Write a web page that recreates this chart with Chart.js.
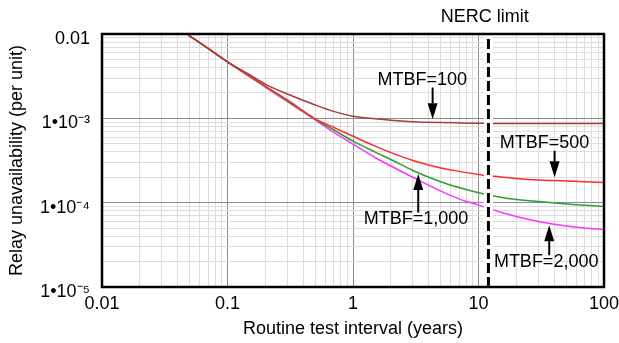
<!DOCTYPE html>
<html><head><meta charset="utf-8">
<script src="https://cdn.jsdelivr.net/npm/chart.js@4/dist/chart.umd.min.js"></script>
<style>html,body{margin:0;padding:0;background:#fff;}canvas{display:block;}</style>
</head><body>
<canvas id="c" width="619" height="343"></canvas>
<script>
// ---- data ----
const testInterval = [0.0486, 0.07, 0.1, 0.15, 0.2, 0.3, 0.5, 0.7, 1, 1.5, 2, 3, 5, 7, 10, 15, 20, 30, 50, 70, 100];
const mtbf100  = [9.73e-3, 6.75e-3, 4.68e-3, 3.29e-3, 2.55e-3, 1.94e-3, 1.44e-3, 1.21e-3, 1.06e-3, 9.86e-4, 9.47e-4, 9.14e-4, 8.92e-4, 8.83e-4, 8.76e-4, 8.69e-4, 8.69e-4, 8.69e-4, 8.69e-4, 8.69e-4, 8.69e-4];
const mtbf500  = [9.73e-3, 6.75e-3, 4.68e-3, 3.16e-3, 2.41e-3, 1.65e-3, 9.86e-4, 7.83e-4, 6.14e-4, 4.68e-4, 3.93e-4, 3.16e-4, 2.58e-4, 2.35e-4, 2.16e-4, 2.02e-4, 1.94e-4, 1.86e-4, 1.81e-4, 1.77e-4, 1.74e-4];
const mtbf1000 = [9.73e-3, 6.75e-3, 4.68e-3, 3.14e-3, 2.38e-3, 1.61e-3, 9.73e-4, 7.32e-4, 5.36e-4, 3.98e-4, 3.25e-4, 2.41e-4, 1.77e-4, 1.51e-4, 1.31e-4, 1.16e-4, 1.09e-4, 1.03e-4, 9.65e-5, 9.32e-5, 9.02e-5];
const mtbf2000 = [9.73e-3, 6.75e-3, 4.68e-3, 3.12e-3, 2.35e-3, 1.58e-3, 9.60e-4, 6.84e-4, 4.94e-4, 3.43e-4, 2.72e-4, 2.00e-4, 1.37e-4, 1.11e-4, 9.35e-5, 7.73e-5, 6.84e-5, 5.98e-5, 5.29e-5, 5.01e-5, 4.81e-5];
const seriesNames = ['MTBF=100', 'MTBF=500', 'MTBF=1,000', 'MTBF=2,000'];
const nercLimit = 12;
const nercText = 'NERC limit';

const xTickValues = [0.01, 0.1, 1, 10, 100];
const xTickLabels = ['0.01', '0.1', '1', '10', '100'];
const yTickValues = [0.01, 1e-3, 1e-4, 1e-5];
const yTickLabels = ['0.01', '1•10⁻³', '1•10⁻⁴', '1•10⁻⁵'];

// callout anchors in data units (interval, unavailability)
const calloutLabelX = [3.57, 33.6, 3.18, 34.6];
const calloutLabelY = [2.84e-3, 5.15e-4, 6.4e-5, 1.97e-5];
const arrowX     = [4.31, 40.4, 3.31, 36.6];
const arrowFromY = [2.32e-3, 4.12e-4, 7.63e-5, 2.38e-5];
const arrowToY   = [9.73e-4, 2.0e-4, 2.19e-4, 5.41e-5];
const nercLabelX = 11.2, nercLabelY = 0.016;

// ---- helpers ----
const FONT = '"Liberation Sans", Arial, sans-serif';
function logTicks(min, max) {
  const out = [];
  for (let e = Math.round(Math.log10(min)); e < Math.round(Math.log10(max)); e++)
    for (let m = 1; m <= 9; m++) out.push(+(m * Math.pow(10, e)).toPrecision(3));
  out.push(max);
  return out;
}
const isDecade = v => Math.abs(Math.log10(v) - Math.round(Math.log10(v))) < 1e-6;
function labelFor(values, labels, v) {
  const i = values.findIndex(t => Math.abs(Math.log10(t) - Math.log10(v)) < 1e-6);
  return i >= 0 ? labels[i] : '';
}
const pts = ys => testInterval.map((t, i) => ({x: t, y: ys[i]}));

const overlay = {
  id: 'overlay',
  afterDatasetsDraw(chart) {
    const {ctx, chartArea: a, scales: {x, y}} = chart;
    ctx.save();
    ctx.strokeStyle = '#000';
    ctx.lineWidth = 2.5;
    ctx.strokeRect(a.left, a.top, a.right - a.left, a.bottom - a.top);
    ctx.font = '18px ' + FONT;
    ctx.fillStyle = '#000';
    ctx.textAlign = 'center';
    ctx.textBaseline = 'middle';
    seriesNames.forEach((t, i) => {
      ctx.fillText(t, x.getPixelForValue(calloutLabelX[i]), y.getPixelForValue(calloutLabelY[i]));
      const ax = x.getPixelForValue(arrowX[i]);
      const y0 = y.getPixelForValue(arrowFromY[i]);
      const y1 = y.getPixelForValue(arrowToY[i]);
      const dir = Math.sign(y1 - y0), hl = 16, hw = 5;
      ctx.lineWidth = 2;
      ctx.beginPath(); ctx.moveTo(ax, y0); ctx.lineTo(ax, y1 - dir * hl); ctx.stroke();
      ctx.beginPath(); ctx.moveTo(ax, y1); ctx.lineTo(ax - hw, y1 - dir * hl); ctx.lineTo(ax + hw, y1 - dir * hl); ctx.closePath(); ctx.fill();
    });
    ctx.fillText(nercText, x.getPixelForValue(nercLabelX), y.getPixelForValue(nercLabelY));
    ctx.restore();
  }
};

Chart.defaults.font.family = FONT;
Chart.defaults.font.size = 18;
Chart.defaults.color = '#000';

const line = (label, ys, color) => ({
  label, data: pts(ys), borderColor: color, borderWidth: 1.5,
  pointRadius: 0, fill: false, cubicInterpolationMode: 'monotone'
});

new Chart(document.getElementById('c'), {
  type: 'line',
  data: {
    datasets: [
      {label: nercText, data: [{x: nercLimit, y: 1e-5}, {x: nercLimit, y: 0.01}], borderColor: '#000', borderWidth: 3, borderDash: [10, 4], pointRadius: 0, fill: false},
      {label: 'halo', data: [{x: nercLimit, y: 1e-5}, {x: nercLimit, y: 0.01}], borderColor: '#fff', borderWidth: 9, pointRadius: 0, fill: false},
      line(seriesNames[0], mtbf100, '#a63c3c'),
      line(seriesNames[1], mtbf500, '#ff2b2b'),
      line(seriesNames[2], mtbf1000, '#2f9e2f'),
      line(seriesNames[3], mtbf2000, '#ff33ff')
    ]
  },
  options: {
    responsive: false,
    animation: false,
    devicePixelRatio: 1,
    layout: {padding: {top: 34, right: 15, bottom: 0, left: 0}},
    plugins: {legend: {display: false}, tooltip: {enabled: false}},
    scales: {
      x: {
        type: 'logarithmic', min: 0.01, max: 100,
        afterBuildTicks: s => { s.ticks = logTicks(0.01, 100).map(v => ({value: v})); },
        afterFit: s => { s.height = 56; s.paddingRight = 0; s.paddingLeft = 0; },
        ticks: {autoSkip: false, maxRotation: 0, minRotation: 0, padding: 6, color: '#000',
                callback: v => labelFor(xTickValues, xTickLabels, v)},
        grid: {color: c => isDecade(c.tick.value) ? '#8c8c8c' : '#dddddd', lineWidth: 1, drawTicks: false},
        border: {display: false},
        title: {display: true, text: 'Routine test interval (years)', color: '#000', padding: {top: 0, bottom: 3}}
      },
      y: {
        type: 'logarithmic', min: 1e-5, max: 0.01,
        afterBuildTicks: s => { s.ticks = logTicks(1e-5, 0.01).map(v => ({value: v})); },
        afterFit: s => { s.width = 102; s.paddingTop = 0; s.paddingBottom = 0; },
        ticks: {autoSkip: false, padding: 12, labelOffset: 5, color: '#000',
                callback: v => labelFor(yTickValues, yTickLabels, v)},
        grid: {color: c => isDecade(c.tick.value) ? '#8c8c8c' : '#dddddd', lineWidth: 1, drawTicks: false},
        border: {display: false},
        title: {display: true, text: 'Relay unavailability (per unit)', color: '#000', padding: {top: 6, bottom: 0}}
      }
    }
  },
  plugins: [overlay]
});
</script>
</body></html>
